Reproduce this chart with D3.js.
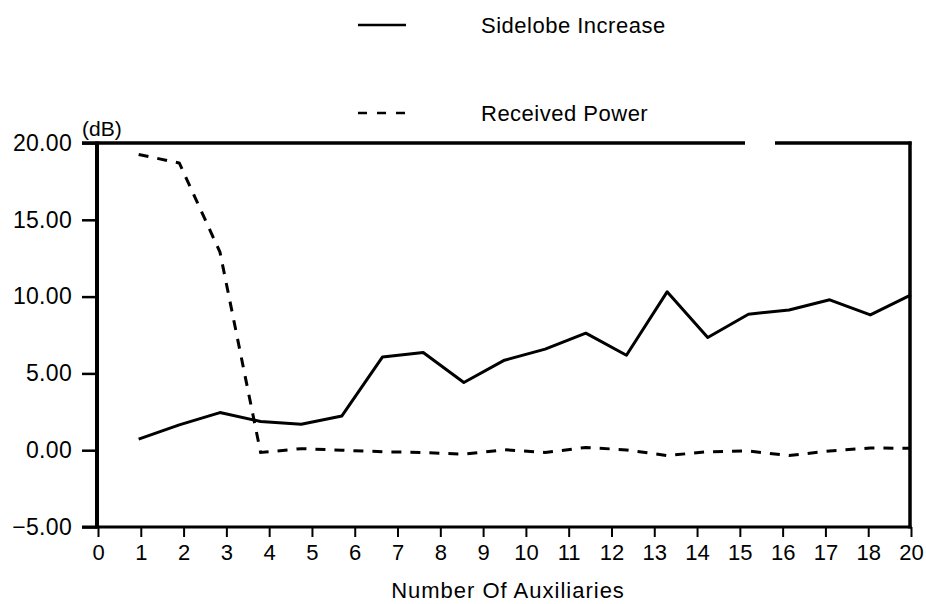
<!DOCTYPE html>
<html>
<head>
<meta charset="utf-8">
<script src="https://cdn.jsdelivr.net/npm/d3@7/dist/d3.min.js"></script>
<style>
  html, body { margin: 0; padding: 0; background: #fff; }
  svg { display: block; }
  text { font-family: "Liberation Sans", Arial, Helvetica, sans-serif; fill: #000; }
</style>
</head>
<body>
<svg id="chart" width="926" height="604"></svg>
<script>
// Number of auxiliary elements used by the canceller
const auxiliaries = [1, 2, 3, 4, 5, 6, 7, 8, 9, 10, 11, 12, 13, 14, 15, 16, 17, 18, 19, 20];

// Sidelobe increase (dB)
const sidelobeIncrease = [0.72, 1.65, 2.45, 1.87, 1.69, 2.23, 6.07, 6.36, 4.41, 5.86,
                          6.58, 7.62, 6.18, 10.31, 7.34, 8.85, 9.13, 9.79, 8.81, 10.11];

// Received power (dB)
const receivedPower = [19.25, 18.7, 12.9, -0.15, 0.1, 0.0, -0.1, -0.15, -0.26, 0.03,
                       -0.15, 0.18, 0.02, -0.35, -0.1, -0.05, -0.35, -0.05, 0.14, 0.13];

// Axis ticks
const xTickLabels = ["0", "1", "2", "3", "4", "5", "6", "7", "8", "9", "10",
                     "11", "12", "13", "14", "15", "16", "17", "18", "20"];
const yTicks = [-5, 0, 5, 10, 15, 20];

const legendItems = [
  { name: "Sidelobe Increase", dash: null },
  { name: "Received Power", dash: "9,10" }
];

(function draw() {
  const svg = d3.select("#chart");

  const plotLeft = 97, plotRight = 910, plotTop = 143, plotBottom = 527;

  const x = d3.scaleLinear().domain([0, 20]).range([98, 911]);
  const xTicks = d3.scalePoint().domain(xTickLabels).range([98, 911]);
  const y = d3.scaleLinear().domain([-5, 20]).range([plotBottom, plotTop]);

  // Y axis
  const yAxis = svg.append("g")
    .attr("transform", `translate(${plotLeft},0)`)
    .call(d3.axisLeft(y).tickValues(yTicks).tickFormat(d3.format(".2f"))
          .tickSize(15).tickPadding(10));
  yAxis.select(".domain").remove();
  yAxis.selectAll(".tick line").attr("stroke", "#000").attr("stroke-width", 2.5);
  yAxis.selectAll(".tick text")
    .style("font-size", "23px")
    .style("letter-spacing", "0.3px")
    .attr("fill", "#000");

  // X axis
  const xAxis = svg.append("g")
    .attr("transform", `translate(0,${plotBottom})`)
    .call(d3.axisBottom(xTicks).tickSize(10).tickPadding(7));
  xAxis.select(".domain").remove();
  xAxis.selectAll(".tick line").attr("stroke", "#000").attr("stroke-width", 2);
  xAxis.selectAll(".tick text")
    .style("font-size", "22px")
    .attr("fill", "#000");

  // Plot frame (the top edge has a short break)
  const frame = svg.append("g").attr("stroke", "#000").attr("fill", "none");
  frame.append("line").attr("x1", plotLeft).attr("x2", plotLeft)
    .attr("y1", plotTop - 1.5).attr("y2", plotBottom + 1.5).attr("stroke-width", 4);
  frame.append("line").attr("x1", plotRight).attr("x2", plotRight)
    .attr("y1", plotTop - 1.5).attr("y2", plotBottom + 1.5).attr("stroke-width", 3.5);
  frame.append("line").attr("x1", plotLeft - 15).attr("x2", plotRight + 1.5)
    .attr("y1", plotBottom).attr("y2", plotBottom).attr("stroke-width", 3);
  frame.append("line").attr("x1", plotLeft - 15).attr("x2", 745)
    .attr("y1", plotTop).attr("y2", plotTop).attr("stroke-width", 3.5);
  frame.append("line").attr("x1", 775).attr("x2", plotRight + 1.5)
    .attr("y1", plotTop).attr("y2", plotTop).attr("stroke-width", 3.5);

  // Series lines
  const line = d3.line().x((d, i) => x(auxiliaries[i])).y(d => y(d));

  svg.append("path")
    .datum(sidelobeIncrease)
    .attr("d", line)
    .attr("fill", "none")
    .attr("stroke", "#000")
    .attr("stroke-width", 3)
    .attr("stroke-linejoin", "round");

  svg.append("path")
    .datum(receivedPower)
    .attr("d", line)
    .attr("fill", "none")
    .attr("stroke", "#000")
    .attr("stroke-width", 3)
    .attr("stroke-dasharray", "10,9");

  // Unit label
  svg.append("text")
    .attr("x", 82).attr("y", 136)
    .style("font-size", "21px")
    .text("(dB)");

  // X axis title
  svg.append("text")
    .attr("x", 508).attr("y", 598)
    .attr("text-anchor", "middle")
    .style("font-size", "22px")
    .style("letter-spacing", "1px")
    .text("Number Of Auxiliaries");

  // Legend
  const legend = svg.append("g");
  legendItems.forEach((d, i) => {
    const ly = 25 + i * 88;
    legend.append("line")
      .attr("x1", 358).attr("x2", 406)
      .attr("y1", ly).attr("y2", ly)
      .attr("stroke", "#000").attr("stroke-width", 2.5)
      .attr("stroke-dasharray", d.dash);
    legend.append("text")
      .attr("x", 481).attr("y", ly + 8)
      .style("font-size", "22px")
      .style("letter-spacing", "0.5px")
      .text(d.name);
  });
})();
</script>
</body>
</html>
